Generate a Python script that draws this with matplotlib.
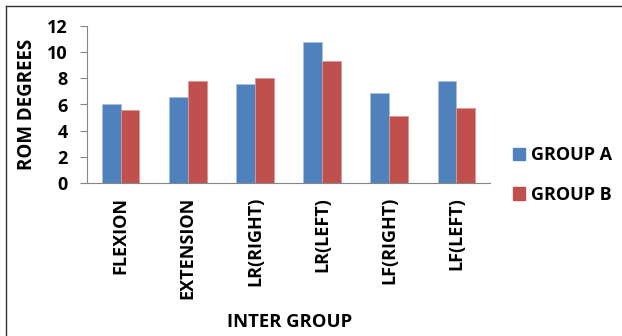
import matplotlib
matplotlib.use("Agg")
import matplotlib.pyplot as plt
import numpy as np
from matplotlib.patches import Rectangle
from matplotlib.lines import Line2D

categories = ["FLEXION", "EXTENSION", "LR(RIGHT)", "LR(LEFT)", "LF(RIGHT)", "LF(LEFT)"]
group_a = [6.0, 6.6, 7.6, 10.8, 6.9, 7.8]
group_b = [5.55, 7.8, 8.0, 9.3, 5.15, 5.7]
series_names = ["GROUP A", "GROUP B"]
y_ticks = [0, 2, 4, 6, 8, 10, 12]

blue = "#4F81BD"
red = "#C0504D"
axis_gray = "#868686"

plt.rcParams["font.family"] = ["Open Sans", "DejaVu Sans"]
plt.rcParams["font.weight"] = "bold"

W, H = 622, 336
fig = plt.figure(figsize=(W / 100, H / 100), dpi=100)
ax = fig.add_axes([87 / W, 1 - 183 / H, (490 - 87) / W, (183 - 26) / H])

x = np.arange(len(categories))
bw = 0.28
ax.bar(x - bw / 2, group_a, bw, color=blue, label=series_names[0],
       edgecolor="#A7C0DE", linewidth=0.6)
ax.bar(x + bw / 2, group_b, bw, color=red, label=series_names[1],
       edgecolor="#D99795", linewidth=0.6)

ax.set_xlim(-0.5, len(categories) - 0.5)
ax.set_ylim(0, 12)
ax.set_yticks(y_ticks)
ax.set_xticks(x)
ax.set_xticklabels(categories, rotation=90, fontsize=13, fontweight="bold")
ax.tick_params(axis="x", length=0, pad=10)
ax.tick_params(axis="y", length=5, width=0.8, color=axis_gray, labelsize=13, pad=9)
for lbl in ax.get_yticklabels():
    lbl.set_fontweight("bold")

for side in ("top", "right"):
    ax.spines[side].set_visible(False)
for side in ("left", "bottom"):
    ax.spines[side].set_color(axis_gray)
    ax.spines[side].set_linewidth(0.8)

ax.set_ylabel("ROM DEGREES", fontsize=13.5, fontweight="bold", labelpad=7)
fig.text(290 / W, 1 - 322 / H, "INTER GROUP", fontsize=13.3, fontweight="bold",
         ha="center", va="center")

handles = [Rectangle((0, 0), 1, 1, color=blue), Rectangle((0, 0), 1, 1, color=red)]
fig.legend(handles, series_names, loc="center left", bbox_to_anchor=(497 / W, 1 - 175 / H),
           frameon=False, prop={"size": 13, "weight": "bold"},
           handlelength=0.65, handleheight=0.65, handletextpad=0.35, labelspacing=1.2)

# outer frame along the top and left edges
fig.add_artist(Line2D([6 / W, 6 / W], [0, 1 - 6 / H], color="#333333", lw=1.0,
                      transform=fig.transFigure))
fig.add_artist(Line2D([6 / W, 1], [1 - 6 / H, 1 - 6 / H], color="#333333", lw=1.0,
                      transform=fig.transFigure))

fig.savefig("out.png", dpi=100)
